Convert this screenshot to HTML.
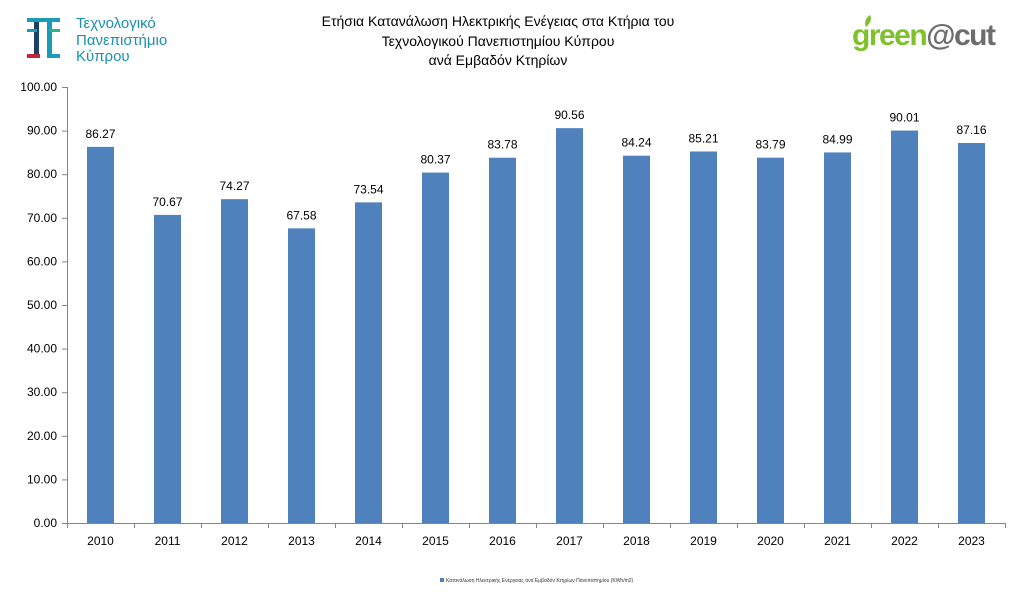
<!DOCTYPE html><html><head><meta charset="utf-8"><style>body{margin:0;background:#fff}svg{display:block;font-family:"Liberation Sans","DejaVu Sans",sans-serif}</style></head><body>
<svg width="1024" height="615" xmlns="http://www.w3.org/2000/svg">
<rect x="0" y="0" width="1024" height="615" fill="#fff"/>
<g>
<rect x="27" y="18" width="33" height="4" fill="#1a9bb8"/>
<rect x="34" y="22" width="5" height="36" fill="#1f3f66"/>
<rect x="47" y="22" width="5" height="36" fill="#1a9bb8"/>
<rect x="27" y="29" width="10" height="3" fill="#1a9bb8"/>
<rect x="49" y="29" width="11" height="3" fill="#2bb28b"/>
<rect x="27" y="54" width="13" height="4" fill="#c0253a"/>
<rect x="47" y="54" width="13" height="4" fill="#1a9bb8"/>
<text x="76" y="28" font-size="15" fill="#1a8fb0">Τεχνολογικό</text>
<text x="76" y="45" font-size="15" fill="#1a8fb0">Πανεπιστήμιο</text>
<text x="76" y="61" font-size="15" fill="#1a8fb0">Κύπρου</text>
</g>
<text x="852" y="45" font-size="30" font-weight="bold" fill="#7dc22a" letter-spacing="-1.5">green<tspan fill="#6d6d6d">@cut</tspan></text>
<path d="M866 27 q-3 -7 4 -12 q3 6 -4 12z" fill="#7dc22a"/>
<text text-anchor="middle" font-size="14" fill="#000"><tspan x="498" y="26">Ετήσια Κατανάλωση Ηλεκτρικής Ενέγειας στα Κτήρια του</tspan><tspan x="498" y="46">Τεχνολογικού Πανεπιστημίου Κύπρου</tspan><tspan x="498" y="65">ανά Εμβαδόν Κτηρίων</tspan></text>
<g stroke="#868686" stroke-width="1">
<line x1="67.5" y1="87" x2="67.5" y2="523"/>
<line x1="67" y1="523.5" x2="1005" y2="523.5"/>
</g>
<text x="446" y="582" font-size="5" fill="#333">Κατανάλωση Ηλεκτρικής Ενέργειας ανα Εμβαδόν Κτηρίων Πανεπιστημίου (KWh/m2)</text>
<rect x="440" y="578" width="4" height="4" fill="#4f81bd"/>
<script>
var ns="http://www.w3.org/2000/svg",s=document.querySelector('svg');
function el(n,a,t){var e=document.createElementNS(ns,n);for(var k in a)e.setAttribute(k,a[k]);if(t)e.textContent=t;s.appendChild(e);return e;}
var y0=523,sc=4.36;
for(var i=0;i<=10;i++){var y=y0-i*10*sc;el('line',{x1:62,x2:67,y1:y+.5,y2:y+.5,stroke:'#868686'});el('text',{x:57,y:y+4,'font-size':12,'text-anchor':'end'},(i*10).toFixed(2));}
var v=[86.27,70.67,74.27,67.58,73.54,80.37,83.78,90.56,84.24,85.21,83.79,84.99,90.01,87.16];
for(var i=0;i<14;i++){var cx=67+67*i+33.5,h=v[i]*sc;
el('rect',{x:cx-13.5,y:y0-h,width:27,height:h,fill:'#4f81bd'});
el('text',{x:cx,y:y0-h-9,'font-size':12,'text-anchor':'middle'},v[i].toFixed(2));
el('text',{x:cx,y:545,'font-size':12,'text-anchor':'middle'},2010+i);
el('line',{x1:67.5+67*(i+1),x2:67.5+67*(i+1),y1:523,y2:528,stroke:'#868686'});}
el('line',{x1:67.5,x2:67.5,y1:523,y2:528,stroke:'#868686'});
</script>
</svg></body></html>
